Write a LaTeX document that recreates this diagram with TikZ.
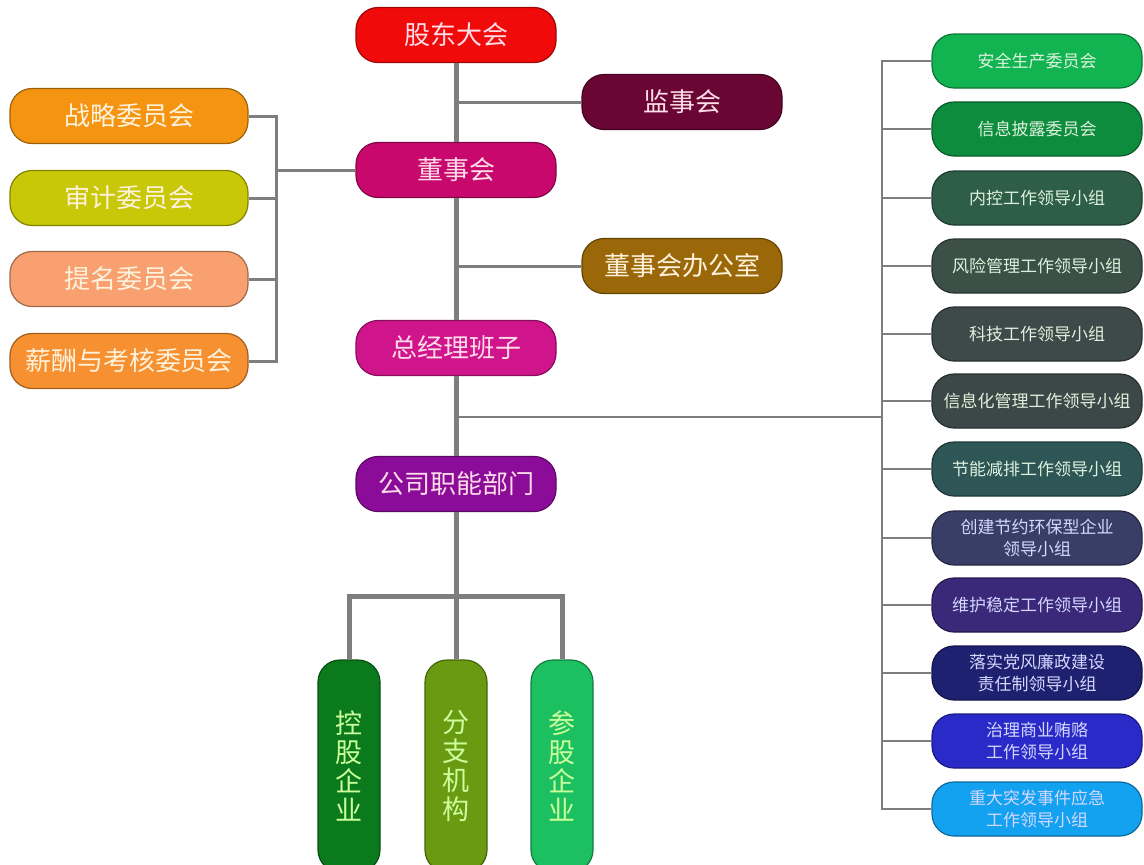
\documentclass[tikz,border=0pt]{standalone}
\usepackage{fontspec}
\newfontfamily\cjk{Noto Sans CJK SC}
\definecolor{cRed}{HTML}{F00A0A}
\definecolor{cMaroon}{HTML}{6A0634}
\definecolor{cDsh}{HTML}{C8086C}
\definecolor{cOffice}{HTML}{9A6808}
\definecolor{cZj}{HTML}{D0148C}
\definecolor{cGs}{HTML}{8C0C9A}
\definecolor{cL1}{HTML}{F49410}
\definecolor{cL2}{HTML}{C8C808}
\definecolor{cL3}{HTML}{F8A070}
\definecolor{cL4}{HTML}{F69030}
\definecolor{cR1}{HTML}{12B452}
\definecolor{cR2}{HTML}{0E8C3E}
\definecolor{cR3}{HTML}{2E5E48}
\definecolor{cR4}{HTML}{3C5048}
\definecolor{cR5}{HTML}{3E4A4A}
\definecolor{cR6}{HTML}{3C4848}
\definecolor{cR7}{HTML}{2E5656}
\definecolor{cR8}{HTML}{383E66}
\definecolor{cR9}{HTML}{3A2878}
\definecolor{cR10}{HTML}{1E2070}
\definecolor{cR11}{HTML}{2A2AC8}
\definecolor{cR12}{HTML}{12A2F0}
\definecolor{cB1}{HTML}{0A7A1C}
\definecolor{cB2}{HTML}{6A9A12}
\definecolor{cB3}{HTML}{1CC060}
\definecolor{lineGray}{HTML}{7E7E7E}
\definecolor{txtPink}{HTML}{FFDDE8}
\definecolor{txtCream}{HTML}{FFF2DC}
\definecolor{txtMint}{HTML}{DDF2DD}
\definecolor{txtLav}{HTML}{D4D8FF}
\definecolor{txtLime}{HTML}{CCFF9C}
\begin{document}
\begin{tikzpicture}[x=1pt,y=-1pt,
  orgbox/.style={draw=#1!65!black, line width=1.2pt, fill=#1, rounded corners=22pt,
    inner sep=0pt, align=center},
  mainbox/.style={orgbox=#1, minimum width=200pt, minimum height=55pt,
    font=\cjk\fontsize{26}{30}\selectfont, text=txtPink},
  leftbox/.style={orgbox=#1, minimum width=238pt, minimum height=55pt,
    font=\cjk\fontsize{26}{30}\selectfont, text=txtCream},
  rightbox/.style={orgbox=#1, minimum width=210pt, minimum height=54pt,
    font=\cjk\fontsize{17}{22}\selectfont, text=txtMint},
  vbox/.style={orgbox=#1, minimum width=62pt, minimum height=212pt,
    font=\cjk\fontsize{27}{29}\selectfont, text=txtLime},
  mainline/.style={draw=lineGray, line width=5pt},
  thinline/.style={draw=lineGray, line width=3pt},
]
\useasboundingbox (0,0) rectangle (1144,865);

% central column
\node[mainbox=cRed] (gd) at (456,35) {股东大会};
\node[mainbox=cMaroon] (jsh) at (682,102) {监事会};
\node[mainbox=cDsh] (dsh) at (456,170) {董事会};
\node[mainbox=cOffice, text=txtCream] (bgs) at (682,266) {董事会办公室};
\node[mainbox=cZj] (zj) at (456,348) {总经理班子};
\node[mainbox=cGs] (gs) at (456,484) {公司职能部门};

% left committees
\node[leftbox=cL1] (l1) at (129,116) {战略委员会};
\node[leftbox=cL2] (l2) at (129,198) {审计委员会};
\node[leftbox=cL3] (l3) at (129,279) {提名委员会};
\node[leftbox=cL4] (l4) at (129,361) {薪酬与考核委员会};

% right groups
\node[rightbox=cR1] (r1) at (1037,61) {安全生产委员会};
\node[rightbox=cR2] (r2) at (1037,129) {信息披露委员会};
\node[rightbox=cR3] (r3) at (1037,198) {内控工作领导小组};
\node[rightbox=cR4] (r4) at (1037,266) {风险管理工作领导小组};
\node[rightbox=cR5] (r5) at (1037,334) {科技工作领导小组};
\node[rightbox=cR6] (r6) at (1037,401) {信息化管理工作领导小组};
\node[rightbox=cR7] (r7) at (1037,469) {节能减排工作领导小组};
\node[rightbox=cR8, text=txtLav] (r8) at (1037,538) {创建节约环保型企业\\领导小组};
\node[rightbox=cR9, text=txtLav] (r9) at (1037,605) {维护稳定工作领导小组};
\node[rightbox=cR10, text=txtLav] (r10) at (1037,673) {落实党风廉政建设\\责任制领导小组};
\node[rightbox=cR11, text=txtLav] (r11) at (1037,741) {治理商业贿赂\\工作领导小组};
\node[rightbox=cR12, text=txtLav] (r12) at (1037,809) {重大突发事件应急\\工作领导小组};

% bottom units
\node[vbox=cB1] (b1) at (349,766) {控\\股\\企\\业};
\node[vbox=cB2] (b2) at (456,766) {分\\支\\机\\构};
\node[vbox=cB3] (b3) at (562,766) {参\\股\\企\\业};

% junction coordinates
\coordinate (lj) at (276,170);
\coordinate (rj) at (882,417);
\coordinate (bj) at (456,596);

% main spine
\draw[mainline] (gd.south) -- (dsh.north);
\draw[mainline] (dsh.south) -- (zj.north);
\draw[mainline] (zj.south) -- (gs.north);
\draw[mainline] (gs.south) -- (bj);
\draw[thinline] (jsh.west) -- (jsh.west -| gd.south);
\draw[thinline] (bgs.west) -- (bgs.west -| gd.south);

% left bracket
\draw[thinline] (l1.east) -- (l1.east -| lj) -- (l4.east -| lj) -- (l4.east);
\draw[thinline] (l2.east) -- (l2.east -| lj);
\draw[thinline] (l3.east) -- (l3.east -| lj);
\draw[thinline] (lj) -- (dsh.west);

% right bracket
\draw[thinline, line width=2.5pt] (r1.west) -- (r1.west -| rj) -- (r12.west -| rj) -- (r12.west);
\foreach \n in {r2,r3,r4,r5,r6,r7,r8,r9,r10,r11}
  \draw[thinline, line width=2.5pt] (\n.west) -- (\n.west -| rj);
\draw[thinline, line width=2.5pt] (rj) -- (rj -| gd.south);

% bottom bracket
\draw[mainline] (b1.north) -- (b1.north |- bj) -- (b3.north |- bj) -- (b3.north);
\draw[mainline] (bj) -- (b2.north);
\end{tikzpicture}
\end{document}
